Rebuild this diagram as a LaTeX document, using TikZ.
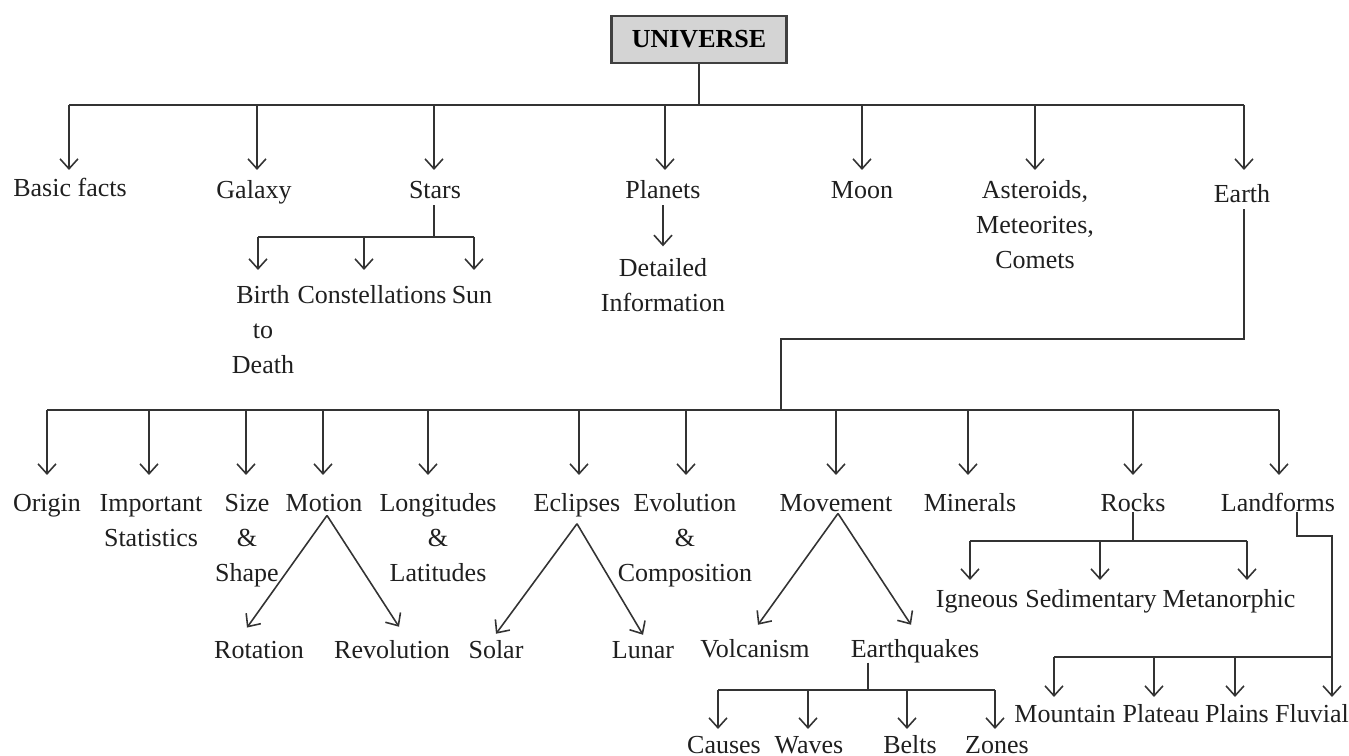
\documentclass[tikz,border=0pt]{standalone}
\usepackage{fontspec}
\setmainfont{Liberation Serif}
\usetikzlibrary{calc}
\usetikzlibrary{arrows.meta}
\tikzset{
  conn/.style={line width=0.9pt, draw=black!80},
  arr/.style={conn, -{Straight Barb[length=0.2cm,width=0.36cm]}},
  lbl/.style={anchor=base, inner sep=0.3333em, text=black!88},
  rootbox/.style={draw=black!75, line width=1.6pt, fill=black!17,
    minimum width=3.5cm, minimum height=0.94cm, font=\fontsize{14.8}{19.9}\selectfont\bfseries},
}
\newcommand{\Stk}[1]{\begin{tabular}[t]{@{}c@{}}#1\end{tabular}}

\begin{document}
\begin{tikzpicture}[x=0.02cm, y=-0.02cm, font=\fontsize{14.8}{19.9}\selectfont]
\useasboundingbox (0,0) rectangle (1349,756);

%%%%%%%%%%%%%%%%%%%%%%%%%%%%%%%%%%%%%%%%%%%%%%%%%%%%%%%%%%%%%% root
\node[rootbox] (uni) at (699,39.5) {UNIVERSE};
\coordinate (barA) at (699,105);
\coordinate (tipA) at (0,170);

\node[lbl] (basic)   at (70,197)   {Basic facts};
\node[lbl] (galaxy)  at (254,199)  {Galaxy};
\node[lbl] (stars)   at (435,199)  {Stars};
\node[lbl] (planets) at (663,199)  {Planets};
\node[lbl] (moon)    at (862,199)  {Moon};
\node[lbl] (aster)   at (1035,199) {\Stk{Asteroids,\\Meteorites,\\Comets}};
\node[lbl] (earth)   at (1242,203) {Earth};

\draw[conn] (uni) -- (barA);
\draw[conn] ($(basic |- barA)+(-1,0)$) -- ($(earth |- barA)+(2,0)$);
\foreach \n/\dx in {basic/-1,galaxy/3,stars/-1,planets/2,moon/0,aster/0,earth/2}
  \draw[arr] ($(\n |- barA)+(\dx,0)$) -- ($(\n |- tipA)+(\dx,0)$);

%%%%%%%%%%%%%%%%%%%%%%%%%%%%%%%%%%%%%%%%%%%%%%%%%%%%%%%%%%%%%% stars
\coordinate (barS) at (434,237);
\coordinate (tipS) at (0,270);

\node[lbl] (birth) at (263,304) {\Stk{Birth\\to\\Death}};
\node[lbl] (const) at (372,304) {Constellations};
\node[lbl] (sun)   at (472,304) {Sun};

\draw[conn] (stars.south -| barS) -- (barS);
\draw[conn] ($(birth |- barS)+(-5,0)$) -- ($(sun |- barS)+(2,0)$);
\foreach \n/\dx in {birth/-5,const/-8,sun/2}
  \draw[arr] ($(\n |- barS)+(\dx,0)$) -- ($(\n |- tipS)+(\dx,0)$);

%%%%%%%%%%%%%%%%%%%%%%%%%%%%%%%%%%%%%%%%%%%%%%%%%%%%%%%%%%%%%% planets
\node[lbl] (detail) at (663,277) {\Stk{Detailed\\Information}};
\draw[arr] (planets.south) -- (detail.north);

%%%%%%%%%%%%%%%%%%%%%%%%%%%%%%%%%%%%%%%%%%%%%%%%%%%%%%%%%%%%%% earth
\coordinate (bend) at (781,339);
\coordinate (barB) at (781,410);
\coordinate (tipB) at (0,475);

\node[lbl] (origin)    at (47,512)   {Origin};
\node[lbl] (impstat)   at (151,512)  {\Stk{Important\\Statistics}};
\node[lbl] (size)      at (247,512)  {\Stk{Size\\\&\\Shape}};
\node[lbl] (motion)    at (324,512)  {Motion};
\node[lbl] (lonlat)    at (438,512)  {\Stk{Longitudes\\\&\\Latitudes}};
\node[lbl] (eclipses)  at (577,512)  {Eclipses};
\node[lbl] (evol)      at (685,512)  {\Stk{Evolution\\\&\\Composition}};
\node[lbl] (movement)  at (836,512)  {Movement};
\node[lbl] (minerals)  at (970,512)  {Minerals};
\node[lbl] (rocks)     at (1133,512) {Rocks};
\node[lbl] (landforms) at (1278,512) {Landforms};

\draw[conn] ($(earth.south)+(2,0)$) |- (bend) -- (barB);
\draw[conn] (origin |- barB) -- ($(landforms |- barB)+(1,0)$);
\foreach \n/\dx in {origin/0,impstat/-2,size/-1,motion/-1,lonlat/-10,eclipses/2,evol/1,movement/0,minerals/-2,rocks/0,landforms/1}
  \draw[arr] ($(\n |- barB)+(\dx,0)$) -- ($(\n |- tipB)+(\dx,0)$);

%%%%%%%%%%%%%%%%%%%%%%%%%%%%%%%%%%%%%%%%%%%%%%%%%%%%%%%%%%%%%% motion, eclipses, movement
\node[lbl] (rotation)   at (259,658) {Rotation};
\node[lbl] (revolution) at (392,658) {Revolution};
\node[lbl] (solar)      at (496,658) {Solar};
\node[lbl] (lunar)      at (643,658) {Lunar};
\node[lbl] (volcanism)  at (755,657) {Volcanism};
\node[lbl] (quakes)     at (915,657) {Earthquakes};

\draw[arr] ($(motion.south)+(3,-3)$) -- ($(rotation.north)+(-12,-7)$);
\draw[arr] ($(motion.south)+(3,-3)$) -- ($(revolution.north)+(7,-7)$);
\draw[arr] (eclipses.south) -- (solar.north);
\draw[arr] (eclipses.south) -- (lunar.north);
\draw[arr] ($(movement.south)+(2,-5)$) -- ($(volcanism.north)+(3,-8)$);
\draw[arr] ($(movement.south)+(2,-5)$) -- ($(quakes.north)+(-4,-8)$);

%%%%%%%%%%%%%%%%%%%%%%%%%%%%%%%%%%%%%%%%%%%%%%%%%%%%%%%%%%%%%% earthquakes
\coordinate (barE) at (868,690);
\coordinate (tipE) at (0,729);

\node[lbl] (causes) at (724,753) {Causes};
\node[lbl] (waves)  at (809,753) {Waves};
\node[lbl] (belts)  at (910,753) {Belts};
\node[lbl] (zones)  at (997,753) {Zones};

\draw[conn] ($(quakes.south -| barE)+(0,-6)$) -- (barE);
\draw[conn] ($(causes |- barE)+(-6,0)$) -- ($(zones |- barE)+(-2,0)$);
\foreach \n/\dx in {causes/-6,waves/-1,belts/-3,zones/-2}
  \draw[arr] ($(\n |- barE)+(\dx,0)$) -- ($(\n |- tipE)+(\dx,0)$);

%%%%%%%%%%%%%%%%%%%%%%%%%%%%%%%%%%%%%%%%%%%%%%%%%%%%%%%%%%%%%% rocks
\coordinate (barR) at (1133,541);
\coordinate (tipR) at (0,580);

\node[lbl] (igneous)  at (977,607)  {Igneous};
\node[lbl] (sediment) at (1091,607) {Sedimentary};
\node[lbl] (meta)     at (1229,607) {Metanorphic};

\draw[conn] ($(rocks.south)+(0,-6)$) -- (barR);
\draw[conn] ($(igneous |- barR)+(-7,0)$) -- ($(meta |- barR)+(18,0)$);
\foreach \n/\dx in {igneous/-7,sediment/9,meta/18}
  \draw[arr] ($(\n |- barR)+(\dx,0)$) -- ($(\n |- tipR)+(\dx,0)$);

%%%%%%%%%%%%%%%%%%%%%%%%%%%%%%%%%%%%%%%%%%%%%%%%%%%%%%%%%%%%%% landforms
\coordinate (turnL) at (1332,536);
\coordinate (barL) at (1332,657);
\coordinate (tipL) at (0,697);

\node[lbl] (mountain) at (1065,722) {Mountain};
\node[lbl] (plateau)  at (1161,722) {Plateau};
\node[lbl] (plains)   at (1237,722) {Plains};
\node[lbl] (fluvial)  at (1312,722) {Fluvial};

\draw[arr] ($(landforms.south)+(19,-6)$) |- (turnL) -- ($(fluvial |- tipL)+(20,0)$);
\draw[conn] ($(mountain |- barL)+(-11,0)$) -- (barL);
\foreach \n/\dx in {mountain/-11,plateau/-7,plains/-2}
  \draw[arr] ($(\n |- barL)+(\dx,0)$) -- ($(\n |- tipL)+(\dx,0)$);

\end{tikzpicture}
\end{document}
